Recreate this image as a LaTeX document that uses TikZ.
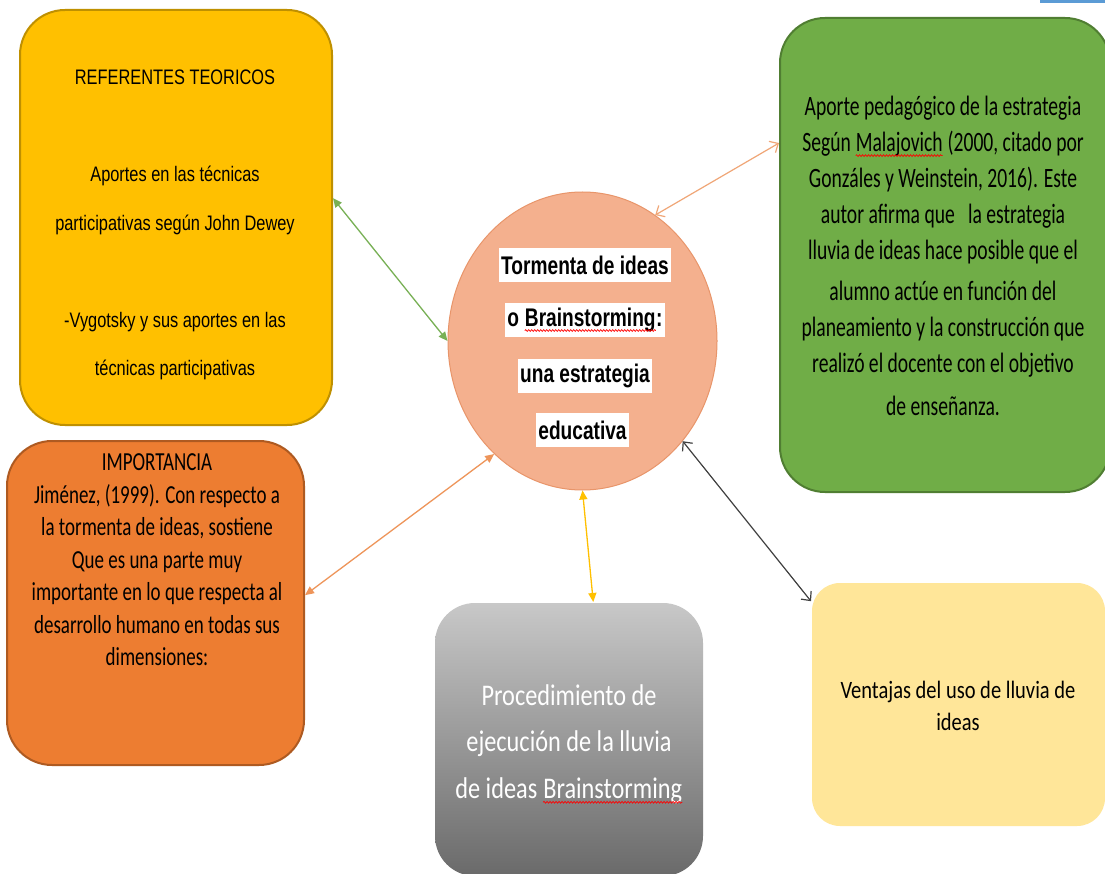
\documentclass[tikz,border=0pt]{standalone}
\usepackage{fontspec}
\usetikzlibrary{arrows.meta}
\usetikzlibrary{shapes.geometric}
\usetikzlibrary{decorations.pathmorphing}

\newfontfamily\fuenteref[FakeStretch=0.78]{Liberation Sans}
\newfontfamily\fuentecentro[FakeStretch=0.75]{Liberation Sans}
\newfontfamily\fuentecal[FakeStretch=0.70]{Carlito}
\newfontfamily\fuenteimp[FakeStretch=0.73]{Carlito}
\newfontfamily\fuenteproc[FakeStretch=0.81]{Carlito}
\newfontfamily\fuentevent[FakeStretch=0.82]{Carlito}

\definecolor{amarillo}{HTML}{FFC000}
\definecolor{amarilloborde}{HTML}{BF9000}
\definecolor{verde}{HTML}{70AD47}
\definecolor{verdeborde}{HTML}{507E32}
\definecolor{naranja}{HTML}{ED7D31}
\definecolor{naranjaborde}{HTML}{AE5A21}
\definecolor{salmon}{HTML}{F4B08E}
\definecolor{salmonborde}{HTML}{E8956A}
\definecolor{crema}{HTML}{FFE699}
\definecolor{grisclaro}{HTML}{C8C8C8}
\definecolor{grisoscuro}{HTML}{6A6A6A}
\definecolor{flechaverde}{HTML}{78B055}
\definecolor{flechanaranja}{HTML}{F0A677}
\definecolor{flechanaranjafuerte}{HTML}{EE955A}
\definecolor{azul}{HTML}{5B9BD5}

% red spell-check wave
\newcommand\ondaroja[1]{\tikz[baseline=(w.base)]{\node[inner sep=0pt] (w) {#1};
		\draw[red, line width=0.7pt, decorate, decoration={snake, amplitude=0.9pt, segment length=3pt}]
		([yshift=-4pt]w.base west) -- ([yshift=-4pt]w.base east);}}

\begin{document}
\begin{tikzpicture}[x=1pt, y=-1pt,
		caja/.style={rounded corners=45pt, line width=2pt, inner sep=0pt},
		texto/.style={align=center, inner sep=0pt},
		renglon/.style={fill=white, inner xsep=2pt, inner ysep=0pt, minimum height=34pt,
			font=\fuentecentro\bfseries\fontsize{25.5}{30}\selectfont},
		doble/.style={line width=1.3pt, {Triangle[length=9pt,width=8pt]}-{Triangle[length=9pt,width=8pt]}},
		dobleabierta/.style={line width=1.2pt, {Straight Barb[length=7pt,width=13pt]}-{Straight Barb[length=7pt,width=13pt]}}]
		% background
		\fill[white] (0,0) rectangle (1105,874);
		\useasboundingbox (0,0) rectangle (1105,874);
		\fill[azul] (1040,0) rectangle (1105,3);
		
		% draw boxes
		\node[caja, fill=amarillo, draw=amarilloborde, minimum width=312pt, minimum height=415pt] (referentes) at (176,217.5) {};
		\node[caja, fill=verde, draw=verdeborde, minimum width=330pt, minimum height=474pt] (aporte) at (945,255) {};
		\node[caja, fill=naranja, draw=naranjaborde, minimum width=297pt, minimum height=324pt] (importancia) at (155.5,603) {};
		\node[caja, rounded corners=40pt, top color=grisclaro, bottom color=grisoscuro, minimum width=268pt, minimum height=273pt] (procedimiento) at (569,739.5) {};
		\node[caja, rounded corners=28pt, fill=crema, minimum width=293pt, minimum height=243pt] (ventajas) at (958.5,704.5) {};
		
		% draw ellipse
		\node[ellipse, fill=salmon, draw=salmonborde, line width=1pt, minimum width=269pt, minimum height=298pt, inner sep=0pt] (centro) at (582.5,341) {};
		
		% draw texts
		\node[texto, font=\fuenteref\fontsize{21}{48.5}\selectfont] (txtref) at (175,225) {REFERENTES TEORICOS\\[48.5pt] Aportes en las técnicas\\ participativas según John Dewey\\[48.5pt] -Vygotsky y sus aportes en las\\ técnicas participativas};
		\node[texto, font=\fuentecal\fontsize{28}{36}\selectfont] (txtaporte) at (943,256) {Aporte pedagógico de la estrategia\\ Según \ondaroja{Malajovich} (2000, citado por\\ Gonzáles y Weinstein, 2016). Este\\ autor afirma que\ \ \ la estrategia\\ lluvia de ideas hace posible que el\\[5pt] alumno actúe en función del\\ planeamiento y la construcción que\\ realizó el docente con el objetivo\\[7pt] de enseñanza.};
		\node[texto, font=\fuenteimp\fontsize{26}{32.5}\selectfont] (txtimp) at (157,560) {IMPORTANCIA\\ Jiménez, (1999). Con respecto a\\ la tormenta de ideas, sostiene\\ Que es una parte muy\\ importante en lo que respecta al\\ desarrollo humano en todas sus\\ dimensiones:};
		\node[texto, text=white, font=\fuenteproc\fontsize{30}{46.5}\selectfont] (txtproc) at (569,744) {Procedimiento de\\ ejecución de la lluvia\\ de ideas \ondaroja{Brainstorming}};
		\node[texto, font=\fuentevent\fontsize{25}{32}\selectfont] (txtvent) at (958,706) {Ventajas del uso de lluvia de\\ ideas};
		
		% draw title lines
		\node[renglon] (linea1) at (585,265.5) {Tormenta de ideas};
		\node[renglon] (linea2) at (585,320) {o \ondaroja{Brainstorming}:};
		\node[renglon] (linea3) at (585,375.5) {una estrategia};
		\node[renglon] (linea4) at (582.5,430) {educativa};
		
		% draw arrows
		\draw[doble, flechaverde] (referentes.7) -- (centro.180);
		\draw[dobleabierta, flechanaranja] (centro.60) -- (aporte.146);
		\draw[doble, flechanaranjafuerte] (centro.232) -- (importancia.3);
		\draw[doble, amarillo] (centro.270) -- (procedimiento.80);
		\draw[dobleabierta, black!75] (centro.315) -- (ventajas.145);
		
		\end{tikzpicture}
\end{document}
